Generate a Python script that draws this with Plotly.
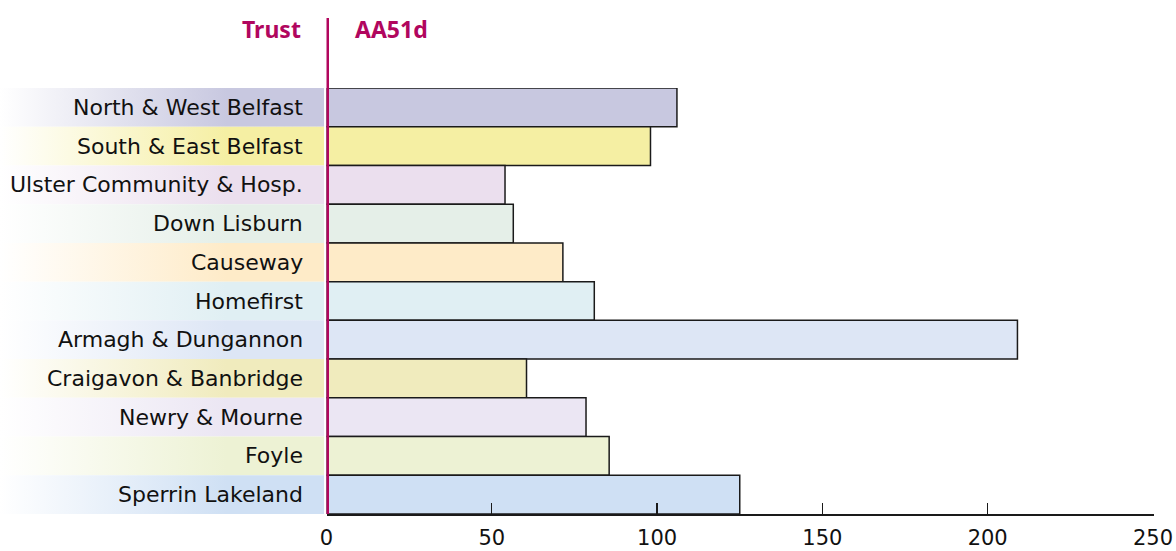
import plotly.graph_objects as go

trusts = ["North & West Belfast", "South & East Belfast", "Ulster Community & Hosp.",
          "Down Lisburn", "Causeway", "Homefirst", "Armagh & Dungannon",
          "Craigavon & Banbridge", "Newry & Mourne", "Foyle", "Sperrin Lakeland"]
values = [106, 98, 54, 56.5, 71.5, 81, 209, 60.5, 78.5, 85.5, 125]
colors = ["#c8c8e0", "#f5efa3", "#ebdfee", "#e5efe8", "#feebc8", "#e0eff3",
          "#dde6f5", "#f0ebbd", "#ebe6f3", "#edf2d4", "#cfe0f4"]
x_ticks = [0, 50, 100, 150, 200, 250]
header_left = "Trust"
header_right = "AA51d"

W, H = 1176, 551
x_max = 250.25
x0_px = 326.5
px_per_unit = (1153 - 326.5) / 250
x1_px = x0_px + px_per_unit * x_max
top_px, bot_px = 88, 514
plot_h = bot_px - top_px
crimson = "#b1065e"
label_font = "DejaVu Sans, Noto Sans, sans-serif"
head_font = "Noto Sans, Open Sans, sans-serif"
text_col = "#111111"

def py(px):  # page pixel y -> paper y
    return (bot_px - px) / plot_h

idx = list(range(len(trusts)))
fig = go.Figure()

# gradient label backgrounds
for i, c in zip(idx, colors):
    fig.add_trace(go.Scatter(
        x=[0, 1, 1, 0, 0], y=[i - 0.5, i - 0.5, i + 0.5, i + 0.5, i - 0.5],
        xaxis="x2", yaxis="y", mode="lines", line=dict(width=0),
        fill="toself",
        fillgradient=dict(type="horizontal",
                          colorscale=[[0, "rgba(255,255,255,1)"], [0.7, c], [1, c]]),
        hoverinfo="skip", showlegend=False))

fig.add_trace(go.Bar(
    x=values, y=idx, orientation="h", width=1,
    marker=dict(color=colors, line=dict(color="#1a1a1a", width=1.5)),
    hoverinfo="skip", showlegend=False))

fig.add_shape(type="line", xref="x", yref="paper", x0=0, x1=0, y0=0,
              y1=py(18), line=dict(color=crimson, width=5), layer="above")

for i, name in zip(idx, trusts):
    fig.add_annotation(text=name, xref="paper", yref="y", x=305 / W, y=i,
                       xanchor="right", yanchor="middle", showarrow=False,
                       font=dict(family=label_font, size=22, color=text_col))

fig.add_annotation(text=f"<b>{header_left}</b>", xref="paper", yref="paper",
                   x=303 / W, y=py(29), xanchor="right",
                   yanchor="middle", showarrow=False,
                   font=dict(family=head_font, size=23, color=crimson))
fig.add_annotation(text=f"<b>{header_right}</b>", xref="paper", yref="paper",
                   x=353 / W, y=py(29), xanchor="left",
                   yanchor="middle", showarrow=False,
                   font=dict(family=head_font, size=23, color=crimson))

fig.update_layout(
    width=W, height=H,
    margin=dict(l=0, r=0, t=top_px, b=H - bot_px),
    paper_bgcolor="white", plot_bgcolor="rgba(0,0,0,0)",
    bargap=0,
    font=dict(family=label_font, size=21, color=text_col),
    xaxis=dict(domain=[x0_px / W, x1_px / W], range=[0, x_max],
               tickvals=x_ticks, ticks="inside", ticklen=11, tickwidth=1.2,
               tickcolor="#1a1a1a", showline=True, linecolor="#1a1a1a",
               linewidth=1.5, showgrid=False, zeroline=False, automargin=False,
               ticklabelstandoff=4,
               tickfont=dict(family=label_font, size=21, color=text_col),
               fixedrange=True),
    xaxis2=dict(domain=[0, 324 / W], range=[0, 1], anchor="y",
                visible=False, fixedrange=True),
    yaxis=dict(range=[len(trusts) - 0.5, -0.5], showticklabels=False,
               showgrid=False, zeroline=False, showline=False, ticks="",
               anchor="x", automargin=False, fixedrange=True),
)

fig.write_html("out.html",
               config={"displayModeBar": False, "staticPlot": True},
               post_script="document.body.style.margin='0';"
                           "document.body.style.overflow='hidden';")
